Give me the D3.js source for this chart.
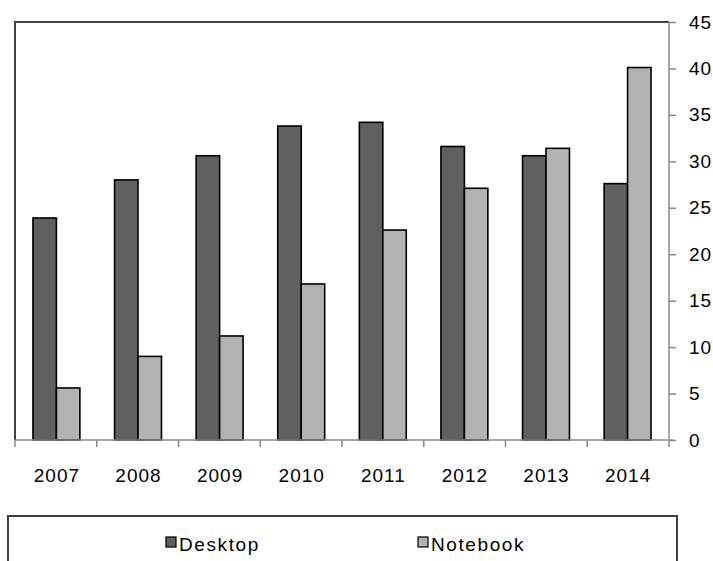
<!DOCTYPE html>
<meta charset="utf-8">
<style>
	body { margin: 0; background: #fff; }
	text { font-family: "Liberation Sans", Arial, sans-serif; fill: #000; }
	.lbl { font-size: 19px; letter-spacing: 1px; }
</style>
<body>
<svg width="713" height="561"></svg>
<script src="https://cdn.jsdelivr.net/npm/d3@7/dist/d3.min.js"></script>
<script>
	var years = ["2007", "2008", "2009", "2010", "2011", "2012", "2013", "2014"];
	var desktop = [23.9, 28.0, 30.6, 33.8, 34.2, 31.6, 30.6, 27.6];
	var notebook = [5.6, 9.0, 11.2, 16.8, 22.6, 27.1, 31.4, 40.1];
	var seriesNames = ["Desktop", "Notebook"];
	var yTicks = [0, 5, 10, 15, 20, 25, 30, 35, 40, 45];

	var colors = { Desktop: "#606060", Notebook: "#b2b2b2" };
	// plot box (window.top is reserved, so own names)
	var pLeft = 15, pRight = 669, pTop = 22, pBottom = 440;

	var svg = d3.select("svg");

	var x = d3.scaleBand().domain(years).range([pLeft, pRight])
		.paddingInner(0.425).paddingOuter(0.22);
	var xEdge = d3.scaleLinear().domain([0, years.length]).range([pLeft, pRight]);
	var x1 = d3.scaleBand().domain(seriesNames).range([0, x.bandwidth()]);
	var y = d3.scaleLinear().domain([0, 45]).range([pBottom, pTop]);

	// frame top and left
	svg.append("path")
		.attr("d", "M" + pLeft + "," + pBottom + "V" + pTop + "H" + pRight)
		.attr("fill", "none").attr("stroke", "#404040").attr("stroke-width", 2);

	var rows = years.map(function(yr, i) {
		return { year: yr, vals: [
			{ key: "Desktop", v: desktop[i] },
			{ key: "Notebook", v: notebook[i] }] };
	});

	var groups = svg.selectAll("g.yr").data(rows).enter().append("g")
		.attr("class", "yr")
		.attr("transform", function(d) { return "translate(" + x(d.year) + ",0)"; });

	groups.selectAll("rect").data(function(d) { return d.vals; }).enter().append("rect")
		.attr("x", function(d) { return x1(d.key); })
		.attr("y", function(d) { return y(d.v); })
		.attr("width", x1.bandwidth())
		.attr("height", function(d) { return pBottom - y(d.v); })
		.attr("fill", function(d) { return colors[d.key]; })
		.attr("stroke", "#000").attr("stroke-width", 1.6);

	// bottom axis line + edge ticks
	svg.append("line").attr("x1", pLeft).attr("x2", pRight + 4)
		.attr("y1", pBottom).attr("y2", pBottom)
		.attr("stroke", "#888").attr("stroke-width", 1.5);
	svg.selectAll("line.xt").data(d3.range(years.length + 1)).enter().append("line")
		.attr("class", "xt")
		.attr("x1", function(d) { return xEdge(d); }).attr("x2", function(d) { return xEdge(d); })
		.attr("y1", pBottom).attr("y2", pBottom + 7)
		.attr("stroke", "#888").attr("stroke-width", 1.5);

	var xAxis = svg.append("g").attr("transform", "translate(0," + pBottom + ")")
		.call(d3.axisBottom(d3.scalePoint().domain(years)
			.range([x(years[0]) + x.bandwidth() / 2, x(years[years.length - 1]) + x.bandwidth() / 2]))
			.tickSize(0).tickPadding(29));
	xAxis.select(".domain").remove();
	xAxis.selectAll("text").attr("class", "lbl").attr("font-size", null).attr("font-family", null);

	// right axis
	var yAxis = svg.append("g").attr("transform", "translate(" + pRight + ",0)")
		.call(d3.axisRight(y).tickValues(yTicks).tickSize(7).tickPadding(13));
	yAxis.select(".domain").attr("stroke", "#888").attr("stroke-width", 1.5)
		.attr("d", "M0," + pBottom + "V" + pTop);
	yAxis.selectAll(".tick line").attr("stroke", "#888").attr("stroke-width", 1.5);
	yAxis.selectAll("text").attr("class", "lbl").attr("font-size", null).attr("font-family", null);

	// legend
	svg.append("rect").attr("x", 8).attr("y", 516).attr("width", 669).attr("height", 60)
		.attr("fill", "none").attr("stroke", "#404040").attr("stroke-width", 2);
	var legX = [166, 418];
	var leg = svg.selectAll("g.leg").data(seriesNames).enter().append("g")
		.attr("class", "leg")
		.attr("transform", function(d, i) { return "translate(" + legX[i] + ",537)"; });
	leg.append("rect").attr("width", 10).attr("height", 10)
		.attr("fill", function(d) { return colors[d]; })
		.attr("stroke", "#000").attr("stroke-width", 1.2);
	leg.append("text").attr("class", "lbl").attr("x", 13).attr("y", 14)
		.style("letter-spacing", "1.6px")
		.text(function(d) { return d; });
</script>
</body>
